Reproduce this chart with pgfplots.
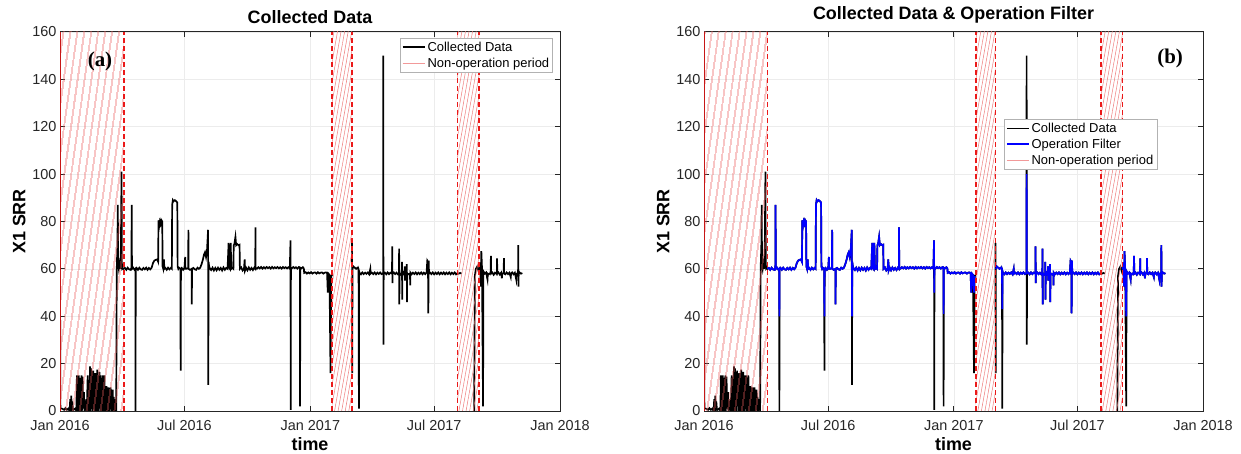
\documentclass[border=0pt]{standalone}
\usepackage{pgfplots}
\pgfplotsset{compat=1.18}
\usepackage{pgfplotstable}
\usetikzlibrary{patterns.meta}
\usepackage{fontspec}
\setmainfont{Liberation Sans}
\newfontfamily\timesfont{Liberation Serif}

\definecolor{mblue}{rgb}{0,0,1}
\definecolor{hatchred}{rgb}{0.9,0.2,0.2}
\definecolor{dashred}{rgb}{0.92,0.1,0.1}
\definecolor{axisgray}{rgb}{0.15,0.15,0.15}

% d = day since 1 Jan 2016, v = collected data, f = operation filter
\pgfplotstableread{
d v f
0 60 nan
0.6 1 nan
3 1 nan
6 0.5 nan
8 1.2 nan
10 0.5 nan
12 1 nan
14 0 nan
15 5 nan
15.6 0 nan
16.5 6.5 nan
17.2 0 nan
18 4 nan
18.8 1 nan
20 0.5 nan
22 1 nan
24 0 nan
24.7 15 nan
25.4 0 nan
26.1 14.5 nan
26.8 0 nan
27.5 15 nan
28.2 2 nan
29 14 nan
29.7 0 nan
30.5 3 nan
31.3 15 nan
32 0 nan
33 14.5 nan
33.8 1 nan
35 8 nan
35.7 0 nan
37 1 nan
38.5 5 nan
39.2 0 nan
40.5 15 nan
41.2 0 nan
42 12 nan
42.8 0 nan
44 18.8 nan
44.7 0 nan
45.5 18 nan
46.2 1 nan
47 16 nan
47.7 0 nan
48.5 17 nan
49.2 2 nan
50 15 nan
50.8 0 nan
51.6 16 nan
52.3 0 nan
53 14 nan
53.7 3 nan
54.5 17.5 nan
55.2 0 nan
56 12 nan
56.8 0 nan
57.6 16.5 nan
58.3 1 nan
59 15 nan
59.8 0 nan
60.6 14 nan
61.3 2 nan
62 15 nan
62.8 0 nan
63.6 11 nan
64.3 0 nan
65 15 nan
65.8 1 nan
66.6 9 nan
67.3 0 nan
68 10.5 nan
68.8 2 nan
69.6 8 nan
70.3 0 nan
71 10 nan
71.8 0 nan
72.6 9 nan
73.3 1 nan
74 10 nan
74.8 0 nan
75.6 8 nan
76.3 2 nan
77 9 nan
77.8 0 nan
78.5 6 nan
79.2 0 nan
80 5 nan
80.7 1 nan
81.5 3 nan
82.2 0 nan
83 60 nan
83.5 65 nan
84 70 nan
84.5 87 nan
85 62 nan
86 60 nan
87 62 nan
88 60 nan
89 68 nan
90 101 nan
90.5 62 nan
91 60 nan
92 60.3 nan
93 60 60
95 60.4 60.4
97 59.6 59.6
99 60.5 60.5
101 59.8 59.8
103 59.6 59.6
104.5 60.4 60.4
104.8 87 87
105.2 60 60
107 60.5 60.5
109 59.6 59.6
110.2 60 60
110.4 0 40
110.7 60 60
112 60.4 60.4
114 59.6 59.6
116 60.5 60.5
118 59.8 59.8
120 59.6 59.6
122 60.4 60.4
124 59.8 59.8
126 60.5 60.5
128 59.6 59.6
130 60.4 60.4
132 59.8 59.8
134 60.5 60.5
136 62.5 62.5
138 63.5 63.5
140 63.8 63.8
142 64 64
143.5 63 63
144 80.5 80.5
145 78 78
146 80 80
147 79 79
148 80.7 80.7
149.5 80 80
150 61 61
151 60 60
152 64 64
152.5 60 60
154 60.4 60.4
156 59.6 59.6
158 60.5 60.5
160 59.8 59.8
162 60.4 60.4
163.5 60 60
164 87 87
165 89 89
166 88.5 88.5
168 89 89
170 88.5 88.5
171.5 88 88
172 61 61
173 60 60
174 60.5 60.5
176 60 60
176.4 17 40
176.8 60 60
178 60.4 60.4
180 59.6 59.6
182 60.5 60.5
183 65 65
183.4 60 60
185 60 60
187.5 60.4 60.4
187.7 76.5 76.5
188 60 60
190 59.6 59.6
192.5 60 60
192.7 45 45
193 60 60
195 60.4 60.4
197 59.8 59.8
199 59.6 59.6
201 60.5 60.5
203 60 60
205 60.5 60.5
207 62 62
209 64 64
210.5 66 66
212 67 67
213.5 65 65
215 68 68
216.5 76.5 76.5
216.8 11 40
217.2 63 63
218 61 61
219.5 60 60
221 59.5 59.5
223 60.5 60.5
225 59.3 59.3
227 60.4 60.4
229 59.4 59.4
231 60.5 60.5
233 59.6 59.6
235 60.4 60.4
237 59.3 59.3
239 60.6 60.6
241 59.6 59.6
243 60.4 60.4
245 60 60
246.5 71 71
247.5 60.5 60.5
248.5 60 60
249.5 71 71
250.5 60 60
252 60.4 60.4
253.5 60 60
254 70 70
255 70.5 70.5
256.5 73.5 73.5
257.5 70 70
259 70.5 70.5
261 70 70
262.5 70.2 70.2
263 60 60
265 60.6 60.6
267 59.3 59.3
269 60 60
270 64 64
270.5 59.3 59.3
272 60.5 60.5
274 59.4 59.4
276 60.6 60.6
278 59.6 59.6
280 60.4 60.4
282 59.5 59.5
284 60.5 60.5
285.5 60 60
285.7 77.5 77.5
286 60.5 60.5
288 60.1 60.1
290 60.7 60.7
292 60.2 60.2
294 60.8 60.8
296 60.1 60.1
298 60.7 60.7
300 60.2 60.2
302 60.8 60.8
304 60.3 60.3
306 60.7 60.7
308 60.1 60.1
310 60.8 60.8
312 60.2 60.2
314 60.7 60.7
316 60.3 60.3
318 60.8 60.8
320 60.2 60.2
322 60.7 60.7
324 60.1 60.1
326 60.8 60.8
328 60.3 60.3
330 60.7 60.7
332 60.2 60.2
334 60.7 60.7
336 60.1 60.1
337 72 72
337.3 0.5 50
337.6 60.5 60.5
339 60.2 60.2
341 60.8 60.8
343 60.3 60.3
345 60.7 60.7
347 60.1 60.1
349 60.7 60.7
350.8 60.3 60.3
351 2 41
351.3 60.5 60.5
353 60.2 60.2
355 60.7 60.7
356.5 60.2 60.2
357 58.3 58.3
359 58.6 58.6
361 58.0 58.0
363 58.5 58.5
365 58.1 58.1
367 58.6 58.6
369 58.0 58.0
371 58.4 58.4
373 58.5 58.5
375 58.0 58.0
377 58.6 58.6
379 58.1 58.1
381 58.4 58.4
383 58.5 58.5
385 58.0 58.0
387 58.4 58.4
389 58.5 58.5
390.5 58.2 58.2
391.5 50 50
392.5 58 58
394 57.5 57.5
395.5 16 50
396.5 57 57
398 57.5 nan
398.5 nan nan
427 71 nan
427.3 16 nan
427.6 60 60
429 61 61
431 60.5 60.5
433 60 60
435 60.5 60.5
436.5 60 60
437 1 43
437.3 59 59
438 58.3 58.3
440 57.7 57.7
442 58.5 58.5
444 57.8 57.8
446 58.4 58.4
448 57.9 57.9
450 58.5 58.5
452 57.7 57.7
453.7 60 60
454.2 58 58
456 58.4 58.4
458 57.8 57.8
460 58.5 58.5
462 57.7 57.7
464 58.4 58.4
466 57.9 57.9
468 58.5 58.5
470 57.8 57.8
472.4 58.2 58.2
472.6 150 100
472.9 28 58
473.2 58 58
475 58.4 58.4
477 57.7 57.7
479 58.5 58.5
481 57.8 57.8
483 58.4 58.4
485.4 58 58
485.7 69.5 69.5
486 54 54
486.3 58 58
488 58.5 58.5
490 57.8 57.8
492 58.4 58.4
494 57.7 57.7
495.6 58 58
495.8 68.5 68.5
496.1 45 45
496.4 58.2 58.2
498 57.6 57.6
499.7 58 58
500 63 63
500.3 47 47
500.6 58 58
502 58.5 58.5
503.5 57.5 57.5
504 61 61
504.3 55 55
504.6 58 58
506.7 58 58
507 62 62
507.3 46 46
507.6 58.2 58.2
509 57.7 57.7
511.7 58 58
512 53 53
512.3 58.4 58.4
514 57.7 57.7
516 58.4 58.4
518 57.8 57.8
520 58.5 58.5
522 57.7 57.7
524 58.4 58.4
526 57.8 57.8
528 58.5 58.5
530 57.7 57.7
532 58.4 58.4
534 57.8 57.8
536 58.5 58.5
537 63.5 63.5
538 63 63
538.5 41.2 41.2
539 63.5 63.5
539.5 58 58
541 58.4 58.4
543 57.8 57.8
545 58.5 58.5
547 57.7 57.7
549 58.4 58.4
551 57.8 57.8
553 58.5 58.5
555 57.7 57.7
557 58.4 58.4
559 57.8 57.8
561 58.5 58.5
563 57.7 57.7
565 58.4 58.4
567 57.8 57.8
569 58.5 58.5
571 57.7 57.7
573 58.4 58.4
575 57.8 57.8
577 58.5 58.5
579 57.7 57.7
581 58.2 58.2
583 58 nan
585 58.3 nan
587 58 nan
587.5 nan nan
605.5 0 nan
606.5 57 nan
608 60 nan
610 61 nan
612 59 nan
613 60 60
614 61 61
615.5 52.5 52.5
616 67.5 67.5
617 60 60
618.5 2 40
619 59 59
621 58 58
623 58.5 58.5
625 55.5 55.5
625.5 58 58
627 57.7 57.7
629.5 58.4 58.4
630 65.5 65.5
630.3 58 58
632 58.5 58.5
634 57.5 57.5
636 58.4 58.4
638.7 57.8 57.8
639 64.4 64.4
639.3 58 58
641 58.5 58.5
643 57.6 57.6
645 58.4 58.4
646 56 56
646.5 58 58
648.7 58.2 58.2
649 64.5 64.5
649.3 58 58
651 57.7 57.7
653 58.5 58.5
655 57.8 57.8
657 58.4 58.4
659 56.5 56.5
659.5 58 58
661 58.5 58.5
663 57.7 57.7
665 58.4 58.4
667 55.5 55.5
667.5 58 58
669.7 58.1 58.1
670 70 70
670.3 52.5 52.5
670.6 58 58
672 58.5 58.5
674 58 58
676 58.2 58.2
}\srr

% non-operation periods (start day, end day)
\pgfplotstableread{
d top
0 160
93 160
}\npA
\pgfplotstableread{
d top
398 160
427 160
}\npB
\pgfplotstableread{
d top
581 160
613 160
}\npC

\pgfplotsset{
  srrstyle/.style={
    scale only axis, height=379bp,
    xmin=0, xmax=731, ymin=0, ymax=160,
    xtick={0,182,366,547,731},
    xticklabels={Jan 2016,Jul 2016,Jan 2017,Jul 2017,Jan 2018},
    ytick={0,20,...,160},
    tick label style={font=\fontsize{14.5}{16}\selectfont, text=black!85},
    xticklabel style={yshift=-6bp},
    /pgf/number format/assume math mode=true,
    grid=major, major grid style={gray!15, line width=0.6bp},
    axis line style={axisgray, line width=1bp},
    major tick style={axisgray, line width=1bp},
    major tick length=5bp,
    tick align=inside,
    xlabel={time}, ylabel={X1 SRR},
    label style={font=\bfseries\fontsize{18}{20}\selectfont},
    title style={font=\bfseries\fontsize{18}{20}\selectfont, yshift=-1bp},
    unbounded coords=jump,
    legend cell align=left,
    legend style={font=\fontsize{13}{15}\selectfont, draw=gray!60, line width=0.6bp,
      inner sep=1.5bp, row sep=1bp},
    legend image code/.code={\draw[#1] (0bp,0bp) -- (22bp,0bp);},
  },
  hatchA/.style={draw=none, forget plot, pattern={Lines[angle=82,distance=6bp,line width=0.6bp]}, pattern color=hatchred!80},
  hatchB/.style={draw=none, forget plot, pattern={Lines[angle=80,distance=3.5bp,line width=0.5bp]}, pattern color=hatchred!65},
  bound/.style={dashred, dash pattern=on 5bp off 3bp, line width=1.8bp, forget plot},
}

\newcommand{\nonop}{%
  \addplot[hatchA] table[x=d,y=top]{\npA} \closedcycle;
  \addplot[hatchB] table[x=d,y=top]{\npB} \closedcycle;
  \addplot[hatchB] table[x=d,y=top]{\npC} \closedcycle;
  \addplot[dashred!85!black, line width=1.6bp, forget plot] coordinates {(0,0) (0,160)};
  \addplot[bound] coordinates {(93,0) (93,160)};
  \addplot[bound] coordinates {(398,0) (398,160)};
  \addplot[bound] coordinates {(427,0) (427,160)};
  \addplot[bound] coordinates {(581,0) (581,160)};
  \addplot[bound] coordinates {(613,0) (613,160)};
}

\begin{document}
\begin{tikzpicture}
\useasboundingbox (0,0) rectangle (1241bp,454bp);
\begin{axis}[srrstyle, width=500bp, at={(60bp,43bp)}, anchor=south west,
  title={Collected Data},
  legend style={at={(0.986,0.984)}, anchor=north east}]
  \addplot[black, line width=1.7bp] table[x=d,y=v]{\srr};
  \addlegendentry{Collected Data}
  \nonop
  \addlegendimage{hatchred!50, line width=0.7bp}
  \addlegendentry{Non-operation period}
  \node[font=\timesfont\bfseries\fontsize{21}{23}\selectfont] at (rel axis cs:0.08,0.921) {(a)};
\end{axis}
\begin{axis}[srrstyle, width=499bp, at={(704bp,43bp)}, anchor=south west,
  title={Collected Data \& Operation Filter},
  legend style={at={(0.908,0.770)}, anchor=north east}]
  \addplot[black, line width=1.7bp] table[x=d,y=v]{\srr};
  \addlegendentry{Collected Data}
  \addplot[mblue, line width=1.7bp] table[x=d,y=f]{\srr};
  \addlegendentry{Operation Filter}
  \nonop
  \addlegendimage{hatchred!50, line width=0.7bp}
  \addlegendentry{Non-operation period}
  \node[font=\timesfont\bfseries\fontsize{21}{23}\selectfont] at (rel axis cs:0.934,0.931) {(b)};
\end{axis}
\end{tikzpicture}
\end{document}
